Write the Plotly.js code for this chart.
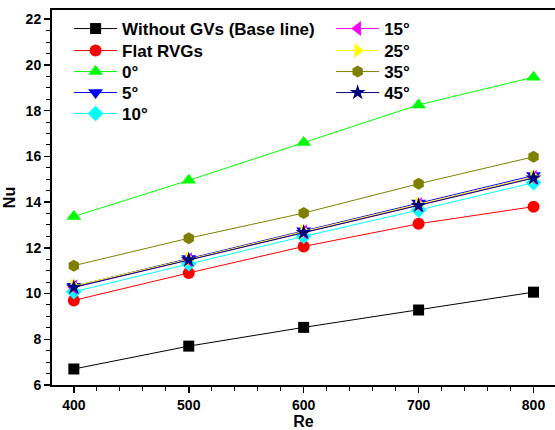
<!DOCTYPE html>
<html>
<head>
<meta charset="utf-8">
<script src="https://cdn.plot.ly/plotly-3.0.1.min.js"></script>
<style>html,body{margin:0;padding:0;background:#fff;}#chart{width:555px;height:430px;}</style>
</head>
<body>
<div id="chart"></div>
<script>
const re = [400, 500, 600, 700, 800];
const names = ["Without GVs (Base line)", "Flat RVGs", "0°", "5°", "10°", "15°", "25°", "35°", "45°"];
const nuBase = [6.70, 7.70, 8.52, 9.28, 10.06];
const nuFlat = [9.70, 10.90, 12.06, 13.05, 13.80];
const nu0 = [13.37, 14.95, 16.60, 18.25, 19.46];
const nu5 = [10.32, 11.53, 12.75, 13.96, 15.16];
const nu10 = [10.08, 11.30, 12.50, 13.65, 14.85];
const nu15 = [10.28, 11.48, 12.70, 13.88, 15.07];
const nu25 = [10.33, 11.50, 12.71, 13.90, 15.10];
const nu35 = [11.22, 12.42, 13.52, 14.80, 15.98];
const nu45 = [10.27, 11.47, 12.67, 13.85, 15.05];

const series = [nuBase, nuFlat, nu0, nu5, nu10, nu15, nu25, nu35, nu45];
const colors = ["#000000", "#ff0000", "#00ff00", "#0000ff", "#00ffff", "#ff00ff", "#ffff00", "#808000", "#000080"];
const symbols = ["square", "circle", "triangle-up", "triangle-down", "diamond", "triangle-left", "triangle-right", "hexagon", "star"];
const sizes = [11, 12, 13, 13, 12, 13, 13, 12, 12];

const font = {family: "Liberation Sans, Arial, sans-serif", color: "#000", weight: "bold"};
const legFont = Object.assign({}, font, {size: 17});

// legend placement: column and row of each entry
const legCol = [0, 0, 0, 0, 0, 1, 1, 1, 1];
const legRow = [0, 1, 2, 3, 4, 0, 1, 2, 3];
const colX = [0.034, 0.555];
const rowTopPx = [11, 33, 54, 75, 96];

const traces = series.map((ys, i) => ({
  x: re, y: ys, name: names[i], type: "scatter", mode: "lines+markers",
  line: {color: colors[i], width: 1},
  marker: {symbol: symbols[i], size: sizes[i], color: colors[i], line: {width: 0}},
  legend: i === 0 ? "legend" : "legend" + (i + 1)
}));

const layout = {
  width: 555, height: 430,
  margin: {l: 52, r: 0, t: 10, b: 45},
  paper_bgcolor: "#fff", plot_bgcolor: "#fff",
  showlegend: true,
  font: font,
  xaxis: {
    range: [381, 818.7], tickvals: re, ticktext: ["400","500","600","700","800"],
    ticks: "outside", ticklen: 6, tickwidth: 1.5, tickcolor: "#000",
    minor: {dtick: 20, ticks: "outside", ticklen: 4, tickwidth: 1, tickcolor: "#000"},
    showline: true, linewidth: 2, linecolor: "#000", mirror: true,
    showgrid: false, zeroline: false,
    tickfont: Object.assign({}, font, {size: 14}),
    title: {text: "Re", font: Object.assign({}, font, {size: 16}), standoff: 6}
  },
  yaxis: {
    range: [6, 22.4], dtick: 2, tick0: 6,
    ticks: "outside", ticklen: 6, tickwidth: 1.5, tickcolor: "#000",
    minor: {dtick: 0.5, ticks: "outside", ticklen: 4, tickwidth: 1, tickcolor: "#000"},
    showline: true, linewidth: 2, linecolor: "#000", mirror: false,
    showgrid: false, zeroline: false,
    tickfont: Object.assign({}, font, {size: 14}),
    title: {text: "Nu", font: Object.assign({}, font, {size: 16}), standoff: 6}
  }
};

series.forEach((_, i) => {
  const key = i === 0 ? "legend" : "legend" + (i + 1);
  layout[key] = {
    x: colX[legCol[i]], y: (385 - rowTopPx[legRow[i]]) / 375,
    xanchor: "left", yanchor: "top", bgcolor: "rgba(0,0,0,0)",
    font: legFont, itemwidth: 43
  };
});

Plotly.newPlot("chart", traces, layout, {displayModeBar: false, staticPlot: true});
</script>
</body>
</html>
